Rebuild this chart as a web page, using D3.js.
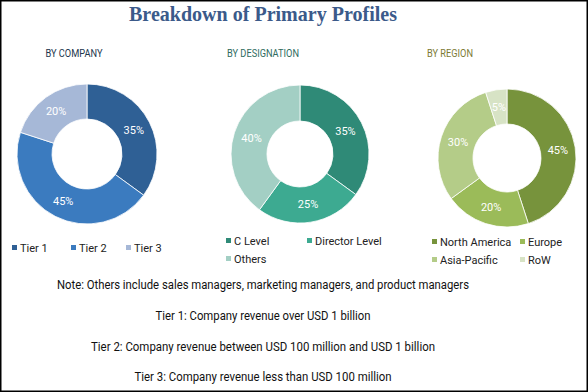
<!DOCTYPE html>
<html lang="en">
<head>
<meta charset="utf-8">
<title>Breakdown of Primary Profiles</title>
<script src="https://cdn.jsdelivr.net/npm/d3@7"></script>
<style>
  body{ margin:0; background:#fff; }
  svg{ display:block; }
  .narrow{ font-family:"Liberation Sans Narrow","Arial Narrow","Roboto",sans-serif; }
</style>
</head>
<body>
<div id="chart"></div>
<script>
// chart data
var companyLabels = ["Tier 1", "Tier 2", "Tier 3"]
var companyValues = [35, 45, 20]
var designationLabels = ["C Level", "Director Level", "Others"]
var designationValues = [35, 25, 40]
var regionLabels = ["North America", "Europe", "Asia-Pacific", "RoW"]
var regionValues = [45, 20, 30, 5]

var noteLines = [
  "Note: Others include sales managers, marketing managers, and product managers",
  "Tier 1: Company revenue over USD 1 billion",
  "Tier 2: Company revenue between USD 100 million and USD 1 billion",
  "Tier 3: Company revenue less than USD 100 million"
]

var w = 588, h = 392

var svg = d3.select("#chart").append("svg").attr("width", w).attr("height", h)

svg.append("rect")
  .attr("x", 0.75).attr("y", 0.75)
  .attr("width", w - 1.5).attr("height", h - 1.5)
  .attr("fill", "#fff").attr("stroke", "#000").attr("stroke-width", 1.5)

svg.append("text")
  .attr("x", 263).attr("y", 21)
  .attr("text-anchor", "middle")
  .attr("font-family", "Liberation Serif, serif")
  .attr("font-weight", "bold")
  .attr("font-size", 21)
  .attr("fill", "#3b5a8a")
  .attr("textLength", 268).attr("lengthAdjust", "spacingAndGlyphs")
  .text("Breakdown of Primary Profiles")

var panels = [
  {title:"BY COMPANY", titleX:74, titleW:57, titleColor:"#22364d", labels:companyLabels, values:companyValues,
   colors:["#2f6095","#3b7bbf","#a6b8d7"], cx:87, cy:154, R:70, r:35,
   legend:[[12,248],[71,248],[126,248]]},
  {title:"BY DESIGNATION", titleX:263, titleW:72, titleColor:"#2e6b5e", labels:designationLabels, values:designationValues,
   colors:["#2f8a77","#3daa91","#a3cfc4"], cx:300, cy:154, R:69, r:33,
   legend:[[226,241],[307,241],[226,259]]},
  {title:"BY REGION", titleX:450, titleW:46, titleColor:"#7b7a34", labels:regionLabels, values:regionValues,
   colors:["#77933c","#9bbb59","#b4cc88","#d7e3c5"], cx:507, cy:158, R:69, r:34,
   legend:[[432,242],[520,242],[432,260],[520,260]]}
]

panels.forEach(function(p){
  var g = svg.append("g")

  g.append("text")
    .attr("class", "narrow")
    .attr("x", p.titleX).attr("y", 57)
    .attr("text-anchor", "middle")
    .attr("font-size", 11.5)
    .attr("fill", p.titleColor)
    .attr("textLength", p.titleW).attr("lengthAdjust", "spacingAndGlyphs")
    .text(p.title)

  var pie = d3.pie().sort(null).value(function(d){ return d })
  var arcs = pie(p.values)
  var arc = d3.arc().innerRadius(p.r).outerRadius(p.R)
  var mid = d3.arc().innerRadius((p.r + p.R) / 2).outerRadius((p.r + p.R) / 2)
  var color = d3.scaleOrdinal().domain(p.labels).range(p.colors)

  var slices = g.append("g").attr("transform", "translate(" + p.cx + "," + p.cy + ")")
  slices.selectAll("path")
    .data(arcs)
    .enter()
    .append("path")
    .attr("d", arc)
    .attr("fill", function(d, i){ return color(p.labels[i]) })
    .attr("stroke", "#fff")
    .attr("stroke-width", 0.8)

  slices.selectAll("text")
    .data(arcs)
    .enter()
    .append("text")
    .attr("class", "narrow")
    .attr("transform", function(d){ return "translate(" + mid.centroid(d) + ")" })
    .attr("text-anchor", "middle")
    .attr("dy", "0.35em")
    .attr("font-size", 11)
    .attr("fill", "#fff")
    .text(function(d){ return d.data + "%" })

  var leg = g.selectAll(".leg")
    .data(p.labels)
    .enter()
    .append("g")
    .attr("transform", function(d, i){ return "translate(" + p.legend[i][0] + "," + p.legend[i][1] + ")" })
  leg.append("rect")
    .attr("x", 0).attr("y", -3).attr("width", 5).attr("height", 5)
    .attr("fill", function(d){ return color(d) })
  leg.append("text")
    .attr("class", "narrow")
    .attr("x", 8).attr("y", 4)
    .attr("font-size", 11)
    .attr("fill", "#222")
    .text(function(d){ return d })
})

var noteY = [289, 320, 351, 381]
var noteW = [412, 215, 344, 257]
svg.selectAll(".note")
  .data(noteLines)
  .enter()
  .append("text")
  .attr("class", "narrow")
  .attr("x", 263)
  .attr("y", function(d, i){ return noteY[i] })
  .attr("text-anchor", "middle")
  .attr("font-size", 12.5)
  .attr("fill", "#111")
  .attr("textLength", function(d, i){ return noteW[i] })
  .attr("lengthAdjust", "spacingAndGlyphs")
  .text(function(d){ return d })
</script>
</body>
</html>
